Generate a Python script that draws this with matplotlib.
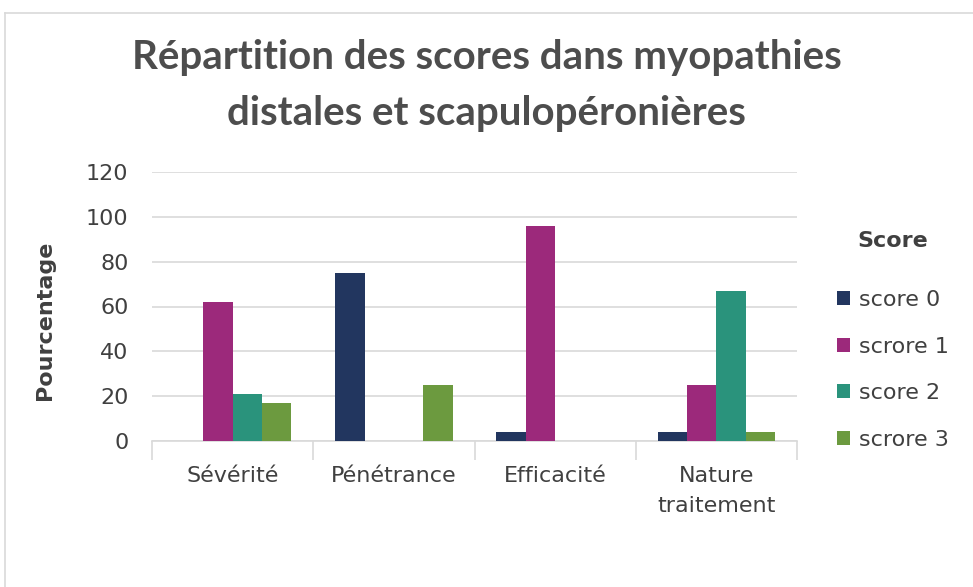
import numpy as np
import matplotlib.pyplot as plt
from matplotlib.lines import Line2D

# data
categories = ["Sévérité", "Pénétrance", "Efficacité", "Nature\ntraitement"]
series_names = ["score 0", "scrore 1", "score 2", "scrore 3"]
score0 = [0, 75, 4, 4]
score1 = [62, 0, 96, 25]
score2 = [21, 0, 0, 67]
score3 = [17, 25, 0, 4]
yticks = [0, 20, 40, 60, 80, 100, 120]

colors = ["#22365F", "#9C297B", "#2A937C", "#6C9A3F"]
text_col = "#404040"
title_col = "#4D4D4D"
grid_col = "#D9D9D9"

plt.rcParams['font.family'] = ['DejaVu Sans']

fig = plt.figure(figsize=(9.73, 5.87), dpi=100)
ax = fig.add_axes([152/973, 1 - 441/587, (797-152)/973, (441-172)/587])

# outer chart border (top/left, rest clipped off)
fig.add_artist(Line2D([5/973, 1], [1 - 13/587, 1 - 13/587], color=grid_col, lw=1.2))
fig.add_artist(Line2D([5/973, 5/973], [0, 1 - 13/587], color=grid_col, lw=1.2))

x = np.arange(len(categories))
w = 1 / 5.5
for i, (vals, name) in enumerate(zip([score0, score1, score2, score3], series_names)):
    ax.bar(x + (i - 1.5) * w, vals, w, color=colors[i], label=name, zorder=3)

ax.set_xlim(-0.5, len(categories) - 0.5)
ax.set_ylim(0, 120)
ax.set_yticks(yticks)
ax.grid(axis="y", color=grid_col, lw=1.2, zorder=0)
for s in ["top", "right", "left"]:
    ax.spines[s].set_visible(False)
ax.spines["bottom"].set_color(grid_col)
ax.spines["bottom"].set_linewidth(1.2)

ax.set_xticks(x)
ax.set_xticklabels(categories, fontsize=16, color=text_col, linespacing=1.6)
ax.set_xticks(np.arange(len(categories) + 1) - 0.5, minor=True)
ax.tick_params(axis="x", which="major", length=0, pad=18)
ax.tick_params(axis="x", which="minor", length=14, color=grid_col, width=1.2)
ax.tick_params(axis="y", length=0, labelsize=16, labelcolor=text_col, pad=17)

ax.set_ylabel("Pourcentage", fontsize=16, fontweight="bold", color=text_col)
ax.yaxis.set_label_coords(-0.15, 0.45)

fig.text(0.5, 1 - 58/587, "Répartition des scores dans myopathies", ha="center", va="center",
         fontsize=29, fontweight="bold", color=title_col, family="Lato")
fig.text(0.5, 1 - 114/587, "distales et scapulopéronières", ha="center", va="center",
         fontsize=29, fontweight="bold", color=title_col, family="Lato")

leg = ax.legend(title="Score", loc="upper left", bbox_to_anchor=(1.031, 0.855), frameon=False,
                fontsize=16, title_fontproperties={"weight": "bold", "size": 16},
                handlelength=0.6, handleheight=0.6, handletextpad=0.4, labelspacing=1.2)
leg.get_title().set_color(text_col)
leg._legend_box.sep = 28
for t in leg.get_texts():
    t.set_color(text_col)

fig.savefig("out.png", dpi=100)
